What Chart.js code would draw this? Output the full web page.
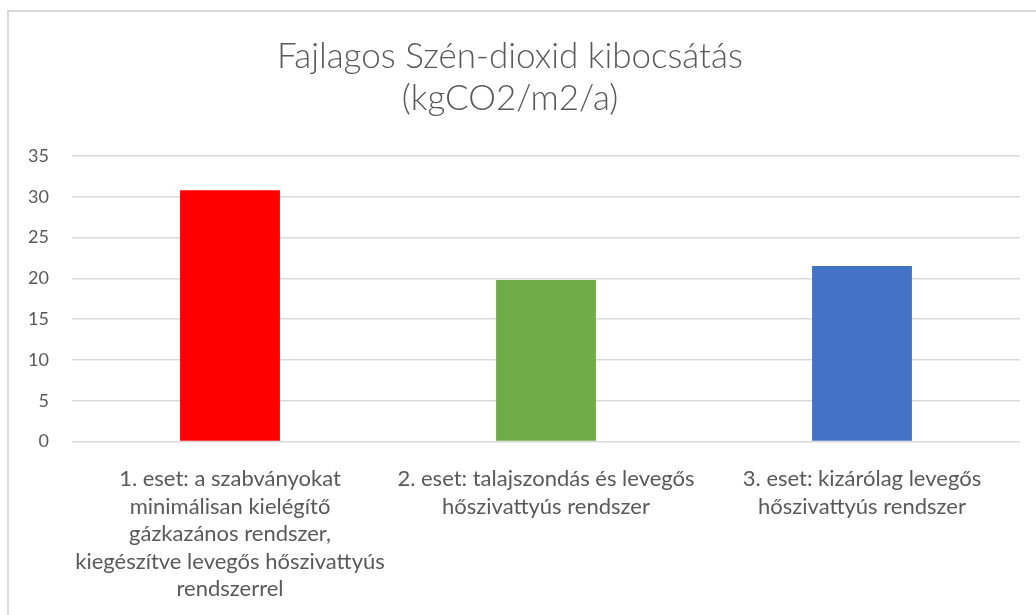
<!DOCTYPE html>
<html>
<head>
<meta charset="utf-8">
<script src="https://cdn.jsdelivr.net/npm/chart.js@4/dist/chart.umd.min.js"></script>
<style>
  html, body { margin: 0; padding: 0; background: #fff; }
  #wrap { position: relative; width: 1036px; height: 615px; overflow: hidden; }
  #frame { position: absolute; left: 7px; top: 10px; width: 1100px; height: 700px;
           border-left: 2px solid #d9d9d9; border-top: 2px solid #d9d9d9; box-sizing: border-box; }
  canvas { position: absolute; left: 0; top: 0; }
</style>
</head>
<body>
<div id="wrap">
  <div id="frame"></div>
  <canvas id="c" width="1036" height="615"></canvas>
</div>
<script>
const categories = [
  ["1. eset: a szabványokat", "minimálisan kielégítő", "gázkazános rendszer,", "kiegészítve levegős hőszivattyús", "rendszerrel"],
  ["2. eset: talajszondás és levegős", "hőszivattyús rendszer"],
  ["3. eset: kizárólag levegős", "hőszivattyús rendszer"]
];
const values = [30.8, 19.8, 21.5];
const barColors = ["#ff0000", "#70ad47", "#4472c4"];
const titleLines = ["Fajlagos Szén-dioxid kibocsátás", "(kgCO2/m2/a)"];
const yMin = 0, yMax = 35, yStep = 5;

const FONT = "Lato, 'Liberation Sans', Arial, sans-serif";
const TEXT = "#595959";

new Chart(document.getElementById('c'), {
  type: 'bar',
  data: {
    labels: categories,
    datasets: [{
      data: values,
      backgroundColor: barColors,
      borderWidth: 0,
      barPercentage: 0.316,
      categoryPercentage: 1.0
    }]
  },
  options: {
    responsive: false,
    animation: false,
    devicePixelRatio: 1,
    layout: { padding: { left: 0, right: 16, top: 0, bottom: 0 } },
    plugins: {
      legend: { display: false },
      tooltip: { enabled: false },
      title: {
        display: true,
        text: titleLines,
        color: TEXT,
        font: { family: FONT, size: 35, weight: 300, lineHeight: 1.2 },
        padding: { top: 36, bottom: 36 }
      }
    },
    scales: {
      x: {
        grid: { display: false, drawTicks: false },
        border: { display: false },
        ticks: {
          color: TEXT,
          font: { family: FONT, size: 22, lineHeight: 1.25 },
          padding: 24,
          maxRotation: 0,
          autoSkip: false
        },
        afterFit: (s) => { s.height = 615 - 441.5; }
      },
      y: {
        min: yMin, max: yMax,
        grid: { color: "#d9d9d9", lineWidth: 1.5, drawTicks: false },
        border: { display: false },
        ticks: {
          stepSize: yStep,
          color: TEXT,
          font: { family: FONT, size: 18 },
          padding: 23
        },
        afterFit: (s) => { s.width = 72; }
      }
    }
  }
});
</script>
</body>
</html>
